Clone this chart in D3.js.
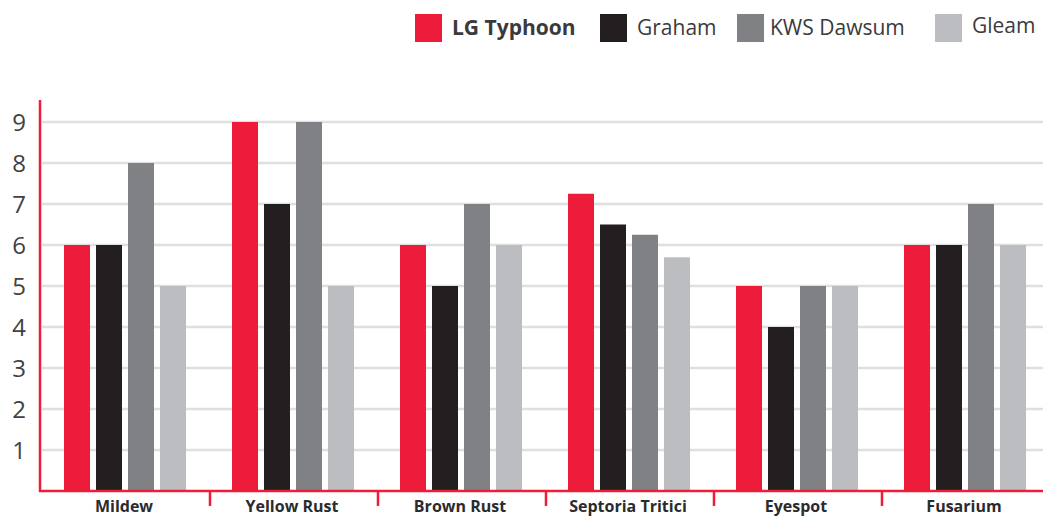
<!DOCTYPE html>
<html>
<head>
<meta charset="utf-8">
<script src="https://cdn.jsdelivr.net/npm/d3@7"></script>
<style>
  body { margin: 0; background: #fff; }
  svg { display: block; font-family: "Open Sans", "Noto Sans", sans-serif; }
</style>
</head>
<body>
<svg id="chart" width="1043" height="517"></svg>
<script>
// Données
const categories = ['Mildew', 'Yellow Rust', 'Brown Rust', 'Septoria Tritici', 'Eyespot', 'Fusarium'];
const seriesNames = ['LG Typhoon', 'Graham', 'KWS Dawsum', 'Gleam'];
const lgTyphoon = [6, 9, 6, 7.25, 5, 6];
const graham = [6, 7, 5, 6.5, 4, 6];
const kwsDawsum = [8, 9, 7, 6.25, 5, 7];
const gleam = [5, 5, 6, 5.7, 5, 6];
const yTicks = [1, 2, 3, 4, 5, 6, 7, 8, 9];

const seriesValues = [lgTyphoon, graham, kwsDawsum, gleam];
const colors = ['#ED1C3A', '#231F20', '#808185', '#BCBDC0'];

const svg = d3.select('#chart');
const margin = { left: 42, right: -7, top: 100, bottom: 26 };
const width = +svg.attr('width');
const height = +svg.attr('height');
const baseline = height - margin.bottom;

const x0 = d3.scaleBand()
    .domain(categories)
    .range([margin.left, width - margin.right])
    .paddingInner(0)
    .paddingOuter(0);

// 4 barres de 26px, espacement 6px
const x1 = d3.scaleBand()
    .domain(seriesNames)
    .range([22, 22 + 122])
    .paddingInner(6 / 32)
    .paddingOuter(0);

const y = d3.scaleLinear()
    .domain([0, 9])
    .range([baseline, baseline - 9 * 41]);

// Grille
svg.append('g')
    .selectAll('line')
    .data(yTicks)
    .enter().append('line')
    .attr('x1', margin.left)
    .attr('x2', width)
    .attr('y1', d => y(d))
    .attr('y2', d => y(d))
    .attr('stroke', '#DFDFE0')
    .attr('stroke-width', 2.5);

// Étiquettes Y
svg.append('g')
    .selectAll('text')
    .data(yTicks)
    .enter().append('text')
    .attr('x', 26)
    .attr('y', d => y(d))
    .attr('dy', '0.36em')
    .attr('text-anchor', 'end')
    .attr('font-size', 24)
    .attr('fill', '#414143')
    .text(d => d);

// Barres
const rows = categories.map((c, i) => ({ cat: c, vals: seriesNames.map((s, j) => ({ s, v: seriesValues[j][i], j })) }));

svg.append('g')
    .selectAll('g')
    .data(rows)
    .enter().append('g')
    .attr('transform', d => `translate(${x0(d.cat)},0)`)
    .selectAll('rect')
    .data(d => d.vals)
    .enter().append('rect')
    .attr('x', d => x1(d.s))
    .attr('y', d => y(d.v))
    .attr('width', x1.bandwidth())
    .attr('height', d => baseline - y(d.v))
    .attr('fill', d => colors[d.j]);

// Axes rouges
const red = '#ED1C3A';
svg.append('line')
    .attr('x1', 40).attr('x2', 40)
    .attr('y1', 100).attr('y2', baseline + 1)
    .attr('stroke', red).attr('stroke-width', 2.5);

svg.append('line')
    .attr('x1', 39).attr('x2', width)
    .attr('y1', baseline).attr('y2', baseline)
    .attr('stroke', red).attr('stroke-width', 2.5);

svg.append('g')
    .selectAll('line')
    .data(categories.slice(1))
    .enter().append('line')
    .attr('x1', d => x0(d))
    .attr('x2', d => x0(d))
    .attr('y1', baseline)
    .attr('y2', baseline + 15)
    .attr('stroke', red)
    .attr('stroke-width', 2.5);

// Étiquettes des catégories (remontées pour ne pas être coupées)
svg.append('g')
    .selectAll('text')
    .data(categories)
    .enter().append('text')
    .attr('x', d => x0(d) + x0.bandwidth() / 2 - 2)
    .attr('y', baseline + 21)
    .attr('text-anchor', 'middle')
    .attr('font-size', 16)
    .attr('font-weight', 'bold')
    .attr('fill', '#2B2B2D')
    .text(d => d);

// Légende
const legendX = [415, 600, 737, 935];
const legend = svg.append('g');
legend.selectAll('rect')
    .data(seriesNames)
    .enter().append('rect')
    .attr('x', (d, i) => legendX[i])
    .attr('y', 14)
    .attr('width', 27)
    .attr('height', 28)
    .attr('fill', (d, i) => colors[i]);

legend.selectAll('text')
    .data(seriesNames)
    .enter().append('text')
    .attr('x', (d, i) => legendX[i] + (i === 2 ? 33 : 37))
    .attr('y', (d, i) => i === 3 ? 33 : 35)
    .attr('font-size', 21)
    .attr('font-weight', (d, i) => i === 0 ? 'bold' : 'normal')
    .attr('fill', '#3A3A3C')
    .text(d => d);
</script>
</body>
</html>
